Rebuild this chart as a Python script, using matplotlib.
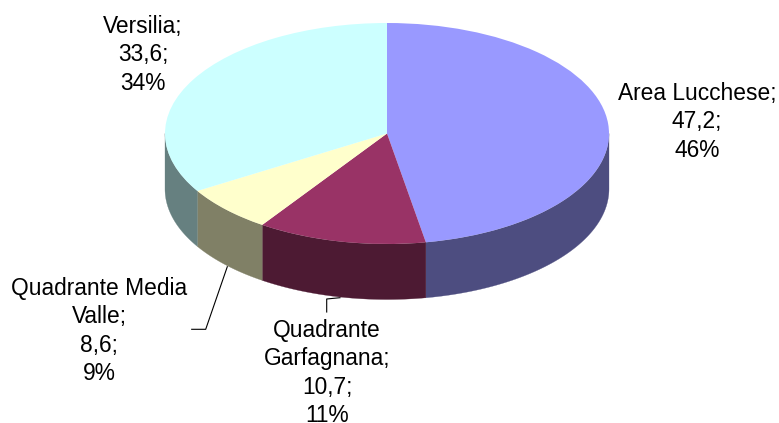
import numpy as np
import matplotlib
matplotlib.use("Agg")
import matplotlib.pyplot as plt

categories = ["Area Lucchese", "Quadrante Garfagnana", "Quadrante Media Valle", "Versilia"]
values_text = ["47,2", "10,7", "8,6", "33,6"]
percent_text = ["46%", "11%", "9%", "34%"]
# Slice shares as they appear in the tilted drawing
drawn_shares = [47.2, 12.3, 6.8, 33.7]
top_colors = ["#9999FF", "#993366", "#FFFFCC", "#CCFFFF"]
side_colors = ["#4D4D80", "#4D1A33", "#808066", "#668080"]

W, H = 779, 423
CX, CY, RX, RY, DEPTH = 387, 133.5, 222, 110.5, 55.5

plt.rcParams["font.family"] = ["Liberation Sans", "DejaVu Sans"]
fig = plt.figure(figsize=(W / 100, H / 100), dpi=100)
ax = fig.add_axes([0, 0, 1, 1])


def px(x, y):
    return (x - CX) / RX, (CY - y) / RY


ax.pie(drawn_shares, colors=top_colors, startangle=90, counterclock=False,
       radius=1, wedgeprops={"linewidth": 0, "zorder": 3})
ax.set_aspect("auto")
ax.set_xlim(px(0, 0)[0], px(W, 0)[0])
ax.set_ylim(px(0, H)[1], px(0, 0)[1])
ax.axis("off")

# Extruded wall on the visible front half of the rim
edges = np.concatenate([[0], np.cumsum(drawn_shares)]) / np.sum(drawn_shares) * 360
d = DEPTH / RY
for a0, a1, c in zip(edges[:-1], edges[1:], side_colors):
    lo, hi = max(a0, 90), min(a1, 270)
    if hi <= lo:
        continue
    t = np.radians(np.linspace(lo, hi, 80))
    x, y = np.sin(t), np.cos(t)
    ax.fill(np.r_[x, x[::-1]], np.r_[y, y[::-1] - d], facecolor=c,
            edgecolor=c, linewidth=0.2, zorder=2)

# Leader lines
for pts in ([(340, 297.7), (326.7, 299), (326.7, 312)],
            [(227.3, 266.7), (205.7, 329.3), (191.7, 329.3)]):
    xs, ys = zip(*[px(*p) for p in pts])
    ax.plot(xs, ys, color="black", lw=0.8, zorder=1)

# Labels
label_names = ["Area Lucchese;", "Quadrante\nGarfagnana;", "Quadrante Media\nValle;", "Versilia;"]
label_pos = [(697, 122), (327, 373), (99, 331), (143, 55)]
for name, v, p, (lx, ly) in zip(label_names, values_text, percent_text, label_pos):
    ax.text(*px(lx, ly), f"{name}\n{v};\n{p}", ha="center", va="center", fontsize=16.4,
            linespacing=1.3, color="black", zorder=5)

fig.savefig("out.png", dpi=100)
